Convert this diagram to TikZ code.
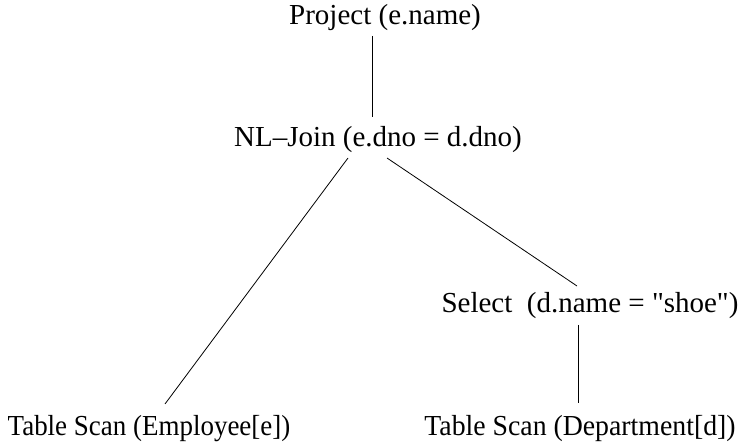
\documentclass[tikz,border=0pt]{standalone}
\usepackage{fontspec}
\setmainfont{Liberation Serif}
\tikzset{lbl/.style={inner sep=0pt, font=\fontsize{29}{33}\selectfont},
  narrow/.style={xscale=0.93}, conn/.style={line width=0.8pt}}
\begin{document}
\begin{tikzpicture}[x=1pt,y=1pt]
\useasboundingbox (0,0) rectangle (750,447);
\node[lbl] (proj) at (385,429) {Project (e.name)};
\node[lbl] (join) at (378,307) {NL--Join (e.dno = d.dno)};
\node[lbl] (sel) at (590,141) {Select\ \ (d.name = \textquotedbl shoe\textquotedbl)};
\node[lbl,narrow] (emp) at (149,18) {Table Scan (Employee[e])};
\node[lbl,narrow,xscale=1.03] (dep) at (580,18) {Table Scan (Department[d])};
\coordinate (p1) at (372,411);
\coordinate (j1) at (372,330);
\draw[conn] (p1) -- (j1);
\coordinate (jl) at (348,289);
\coordinate (el) at (165,43);
\draw[conn] (jl) -- (el);
\coordinate (jr) at (387,289);
\coordinate (sr) at (577,161);
\draw[conn] (jr) -- (sr);
\coordinate (s1) at (578,122);
\coordinate (d1) at (578,44);
\draw[conn] (s1) -- (d1);
\end{tikzpicture}
\end{document}
